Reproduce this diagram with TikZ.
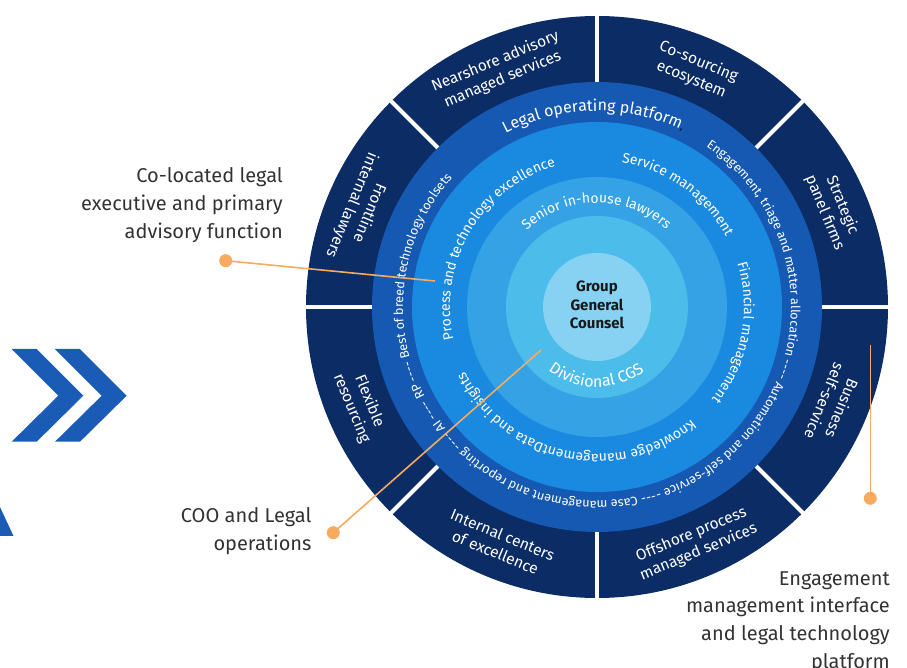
\documentclass[tikz,border=0pt]{standalone}
\usepackage{fontspec}
\setmainfont{Fira Sans}
\usetikzlibrary{decorations.text}
\definecolor{navy}{HTML}{0B2C65}
\definecolor{ringA}{HTML}{1559B2}
\definecolor{ringB}{HTML}{1A89E0}
\definecolor{ringC}{HTML}{36A2E6}
\definecolor{ringD}{HTML}{4CBCEA}
\definecolor{ringE}{HTML}{87D2F2}
\definecolor{chev}{HTML}{1A5CB5}
\definecolor{orng}{HTML}{F8AB5E}
\definecolor{lbl}{HTML}{333333}
\tikzset{
  seglabel/.style={text=white, font=\fontsize{15.5}{19}\selectfont, align=center, inner sep=0pt},
  calllabel/.style={text=lbl, font=\fontsize{20}{27.8}\selectfont, align=right, inner sep=0pt},
  leader/.style={draw=orng, line width=1.6pt},
  leaderdot/.style={circle, fill=orng, minimum size=13pt, inner sep=0pt},
  sepline/.style={draw=white, line width=4pt},
  centrelabel/.style={text=black!90, font=\bfseries\fontsize{15}{18.3}\selectfont, align=center, inner sep=0pt},
}
\newcommand{\ringtext}[5]{%
  \path[decorate, decoration={text along path, text align=center,
     text={|\fontsize{#4}{#4}\selectfont\color{white}|#5}}]
     (#2:#1pt) arc[start angle=#2, end angle=#3, radius=#1pt];
}
\begin{document}
\begin{tikzpicture}[x=1pt,y=1pt]
\useasboundingbox (-597,-361) rectangle (310,307);
% chevrons
\fill[chev] (-585.3,-42) -- (-560.3,-42) -- (-513.7,-88.7) -- (-560.3,-134.7) -- (-585.3,-134.7) -- (-538.7,-88.7) -- cycle;
\fill[chev] (-542,-42) -- (-517,-42) -- (-470.3,-88.7) -- (-517,-134.7) -- (-542,-134.7) -- (-495.3,-88.7) -- cycle;
\fill[chev] (-597,-200) -- (-583.5,-229) -- (-597,-229) -- cycle;
% rings
\fill[navy] (0,0) circle[radius=291pt];
\foreach \a in {0,45,...,315} \draw[sepline] (\a:200pt) -- (\a:300pt);
\fill[ringA] (0,0) circle[radius=225pt];
\fill[ringB] (0,0) circle[radius=185pt];
\fill[ringC] (0,0) circle[radius=130pt];
\fill[ringD] (0,0) circle[radius=91pt];
\fill[ringE] (0,0) circle[radius=54pt];
% outer segment labels
\node[seglabel, rotate=22.5] (nearshore) at (112.5:256pt) {Nearshore advisory\\managed services};
\node[seglabel, rotate=-22.5] (cosourcing) at (67.5:256pt) {Co-sourcing\\ecosystem};
\node[seglabel, rotate=-67.5] (strategic) at (22.5:256pt) {Strategic\\panel firms};
\node[seglabel, rotate=-112.5] (business) at (-22.5:256pt) {Business\\self-service};
\node[seglabel, rotate=22.5] (offshore) at (-67.5:256pt) {Offshore process\\managed services};
\node[seglabel, rotate=-22.5] (internal) at (-112.5:256pt) {Internal centers\\of excellence};
\node[seglabel, rotate=-67.5] (flexible) at (-157.5:256pt) {Flexible\\resourcing};
\node[seglabel, rotate=-112.5] (frontline) at (157.5:256pt) {Frontline\\internal lawyers};
% ring texts
\ringtext{196}{140}{42}{16}{Legal operating platform|\color{black}|,}
\ringtext{194}{94}{-260}{12.6}{Engagement, triage and matter allocation ---- Automation and self-service ---- Case management and reporting ---- AI ---- RP ---- Best of breed technology toolsets}
\ringtext{147}{215}{84}{14}{Process and technology excellence}
\ringtext{147}{90}{19}{14}{Service management}
\ringtext{147}{35}{-56.4}{14}{Financial management}
\ringtext{147}{-32}{-172}{14}{Knowledge managementData and insights}
\ringtext{104}{160}{20.6}{14}{Senior in-house lawyers}
\ringtext{80}{-160}{-21}{16}{Divisional CGS}
\node[centrelabel] (ggc) at (0,2) {Group\\General\\Counsel};
% call-outs
\node[calllabel, anchor=north east] (colo) at (-314,139.5) {Co-located legal\\executive and primary\\advisory function};
\node[calllabel, anchor=north east] (coo) at (-285.3,-200.8) {COO and Legal\\operations};
\node[calllabel, anchor=north east] (engage) at (293,-264.2) {Engagement\\management interface\\and legal technology\\platform};
\node[leaderdot] (d1) at (-371.3,46.3) {};
\coordinate (e1) at (-162,26);
\draw[leader] (d1.center) -- (e1);
\node[leaderdot] (d2) at (-263.7,-225.7) {};
\coordinate (e2) at (-56,-43);
\draw[leader] (d2.center) -- (e2);
\node[leaderdot] (d3) at (273.3,-191.3) {};
\coordinate (e3) at (273.3,-38);
\draw[leader] (d3.center) -- (e3);
\end{tikzpicture}
\end{document}
